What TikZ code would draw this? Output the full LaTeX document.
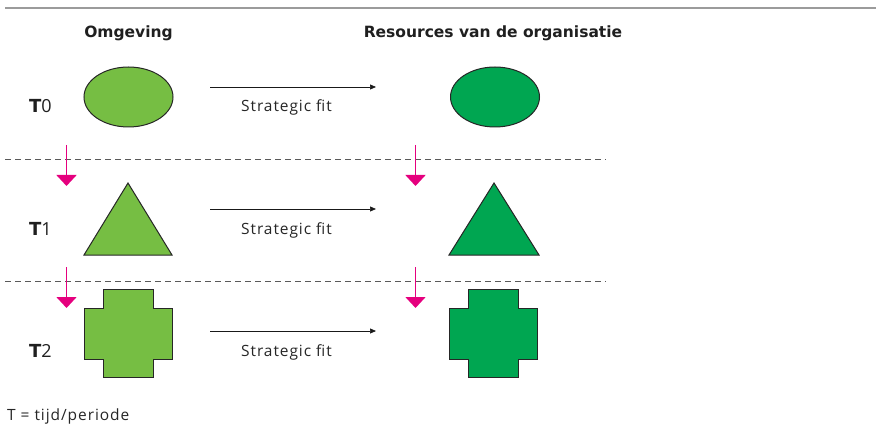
\documentclass[tikz,border=0pt]{standalone}
\usepackage{fontspec}
\setmainfont{Open Sans}
\newfontfamily\headfont{DejaVu Sans}
\newfontfamily\bodyfont[LetterSpace=6]{Open Sans}
\usetikzlibrary{arrows.meta,shapes.geometric}
\definecolor{envgreen}{HTML}{76BE43}
\definecolor{resgreen}{HTML}{00A651}
\definecolor{pinkarrow}{HTML}{E5007E}
\definecolor{rulegray}{HTML}{9B9B9B}
\tikzset{
  x=1pt, y=-1pt,
  heading/.style={font=\headfont\fontsize{15.5}{18}\selectfont\bfseries, anchor=base, inner sep=0pt, text=black!88},
  body/.style={font=\bodyfont\fontsize{15.5}{18}\selectfont, text=black!85, inner sep=0pt},
  shapeline/.style={draw=black!85, line width=1pt},
  fitarrow/.style={-{Triangle[length=6pt,width=5pt]}, line width=0.7pt, black!90},
  separator/.style={dashed, dash pattern=on 6pt off 4pt, draw=black!65, line width=0.7pt},
  pinkdown/.style={draw=pinkarrow, line width=1.6pt, -{Triangle[length=11pt,width=20pt]}},
  timelabel/.style={font=\fontsize{18}{20}\selectfont, anchor=base west, inner sep=0pt, text=black!88}
}
\newcommand{\timemark}[1]{{\headfont\bfseries T}#1}
\newcommand{\crossshape}[3]{% #1 centre x, #2 fill colour, #3 name
  \draw[shapeline, fill=#2] (#1-44,308) -- (#1-25,308) -- (#1-25,289) -- (#1+25,289)
    -- (#1+25,308) -- (#1+44,308) -- (#1+44,359) -- (#1+25,359) -- (#1+25,377)
    -- (#1-25,377) -- (#1-25,359) -- (#1-44,359) -- cycle;
  \coordinate (#3) at (#1,333);
}
\begin{document}
\begin{tikzpicture}
\useasboundingbox (0,0) rectangle (876,433);

% top rule
\draw[rulegray, line width=1.8pt] (5,8) -- (876,8);

% column headings
\node[heading] (hEnv) at (128.5,38) {Omgeving};
\node[heading] (hRes) at (493,38) {Resources van de organisatie};

% row labels
\node[timelabel] (t0) at (29,113) {\timemark{0}};
\node[timelabel] (t1) at (29,235) {\timemark{1}};
\node[timelabel] (t2) at (29,357) {\timemark{2}};

% row 0: ellipses
\node[shapeline, fill=envgreen, ellipse, minimum width=89pt, minimum height=60pt, inner sep=0pt] (e0) at (128.5,97) {};
\node[shapeline, fill=resgreen, ellipse, minimum width=89pt, minimum height=60pt, inner sep=0pt] (r0) at (495,97) {};
\coordinate (a0s) at (210,87);
\coordinate (a0e) at (376,87);
\draw[fitarrow] (a0s) -- (a0e);
\node[body, anchor=base] (f0) at (286.5,112) {Strategic fit};

% separator 1
\coordinate (s1a) at (5,159);
\coordinate (s1b) at (606,159);
\draw[separator] (s1a) -- (s1b);

% row 1: triangles
\draw[shapeline, fill=envgreen] (84,255) -- (128,183) -- (172,255) -- cycle;
\draw[shapeline, fill=resgreen] (449,255) -- (494,183) -- (539,255) -- cycle;
\coordinate (e1) at (128,230);
\coordinate (r1) at (494,230);
\coordinate (a1s) at (210,209);
\coordinate (a1e) at (376,209);
\draw[fitarrow] (a1s) -- (a1e);
\node[body, anchor=base] (f1) at (286.5,234) {Strategic fit};

% separator 2
\coordinate (s2a) at (5,281);
\coordinate (s2b) at (606,281);
\draw[separator] (s2a) -- (s2b);

% row 2: crosses
\crossshape{128.5}{envgreen}{e2}
\crossshape{493}{resgreen}{r2}
\coordinate (a2s) at (210,331);
\coordinate (a2e) at (376,331);
\draw[fitarrow] (a2s) -- (a2e);
\node[body, anchor=base] (f2) at (286.5,356) {Strategic fit};

% pink transition arrows
\coordinate (p1a) at (66.5,145);
\coordinate (p1b) at (66.5,186);
\coordinate (p2a) at (415.5,145);
\coordinate (p2b) at (415.5,186);
\coordinate (p3a) at (66.5,267);
\coordinate (p3b) at (66.5,308);
\coordinate (p4a) at (415.5,267);
\coordinate (p4b) at (415.5,308);
\draw[pinkdown] (p1a) -- (p1b);
\draw[pinkdown] (p2a) -- (p2b);
\draw[pinkdown] (p3a) -- (p3b);
\draw[pinkdown] (p4a) -- (p4b);

% legend
\node[body, anchor=base west] (legend) at (7,420) {T = tijd/periode};
\end{tikzpicture}
\end{document}
